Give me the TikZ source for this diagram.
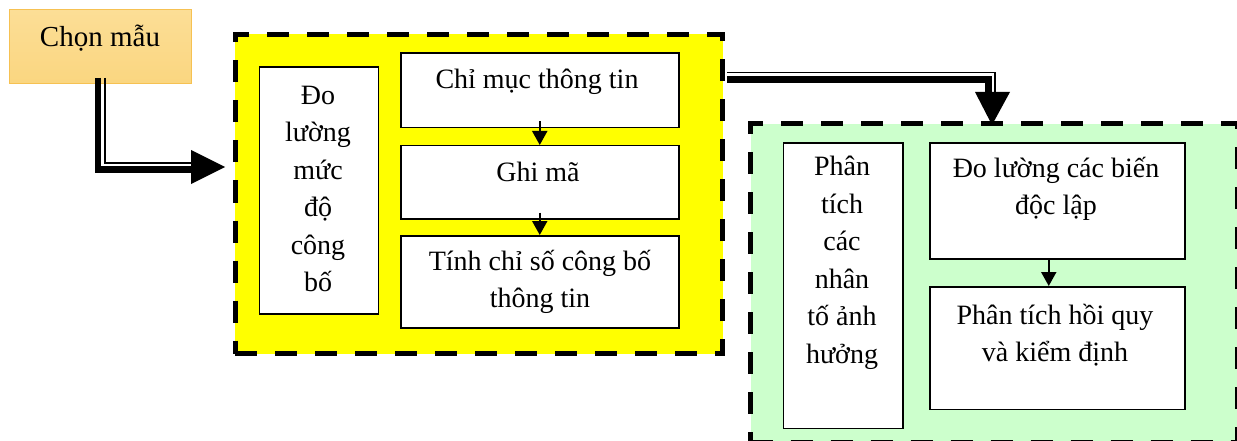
\documentclass[tikz,border=0pt]{standalone}
\usepackage{fontspec}
\setmainfont{Liberation Serif}
\usetikzlibrary{arrows.meta}
\definecolor{ylw}{RGB}{255,255,0}
\definecolor{grn}{RGB}{204,255,204}
\definecolor{orgtop}{RGB}{252,222,150}
\definecolor{orgbot}{RGB}{250,214,128}
\definecolor{orgline}{RGB}{246,193,82}
\tikzset{
  inbox/.style={draw=black, line width=1.5pt, fill=white, inner sep=0pt, anchor=north west},
  lbl/.style={font=\fontsize{28}{37.5}\selectfont, align=center, inner sep=0pt},
  dashbox/.style={line width=5pt, dash pattern=on 22pt off 18pt, inner sep=0pt, anchor=north west},
  thickln/.style={line width=6.5pt},
  thinln/.style={line width=1.6pt},
  smallarr/.style={line width=2pt, -{Triangle[width=15pt,length=14pt]}}
}
\begin{document}
\begin{tikzpicture}[x=1pt,y=-1pt]
\useasboundingbox (0,0) rectangle (1237,441);
% yellow frame
\node[dashbox, fill=ylw, draw=black, minimum width=487.5pt, minimum height=319pt] (yel) at (232.5,32) {};
% green frame
\node[dashbox, fill=grn, draw=black, minimum width=487pt, minimum height=318pt] (gre) at (748,121.5) {};
% Chon mau
\node[draw=orgline, line width=1pt, top color=orgtop, bottom color=orgbot, minimum width=182pt, minimum height=74pt, inner sep=0pt, anchor=north west] (chon) at (9,9) {};
\node[lbl, font=\fontsize{29}{37.5}\selectfont] (chonT) at (100,38) {Chọn mẫu};
% yellow inner boxes
\node[inbox, minimum width=119pt, minimum height=246.5pt] (do) at (258.5,66.5) {};
\node[lbl] (doT) at (318,189) {Đo\\lường\\mức\\độ\\công\\bố};
\node[inbox, minimum width=278pt, minimum height=74.5pt] (chi) at (400,52.5) {};
\node[lbl] (chiT) at (537,82) {Chỉ mục thông tin};
\node[inbox, minimum width=278pt, minimum height=73pt] (ghi) at (400,145) {};
\node[lbl] (ghiT) at (538,172) {Ghi mã};
\node[inbox, minimum width=278pt, minimum height=92pt] (tinh) at (400,235) {};
\node[lbl] (tinhT) at (540,282) {Tính chỉ số công bố\\thông tin};
% green inner boxes
\node[inbox, minimum width=119.5pt, minimum height=285pt] (pt) at (782.5,142.5) {};
\node[lbl] (ptT) at (842,263) {Phân\\tích\\các\\nhân\\tố ảnh\\hưởng};
\node[inbox, minimum width=255pt, minimum height=115.5pt] (dl) at (929,142.5) {};
\node[lbl] (dlT) at (1056,189) {Đo lường các biến\\độc lập};
\node[inbox, minimum width=255pt, minimum height=122.5pt] (hq) at (929,286) {};
\node[lbl] (hqT) at (1055,335) {Phân tích hồi quy\\và kiểm định};
% small arrows
\draw[smallarr] ([yshift=7pt]chi.south) -- (ghi.north);
\draw[smallarr] ([yshift=7pt]ghi.south) -- (tinh.north);
\draw[smallarr] ([xshift=-8.5pt]dl.south) -- ([xshift=-8.5pt]hq.north);
% double arrow 1
\coordinate (t1) at (225,167);
\coordinate (b1) at (191,167);
\draw[thickln] ([xshift=-2.5pt,yshift=6pt]chon.south) |- ([yshift=-2.5pt]b1);
\draw[thinln] ([xshift=4.5pt,yshift=6pt]chon.south) |- ([yshift=4pt]b1);
\fill (t1) -- ([yshift=17pt]b1) -- ([yshift=-17pt]b1) -- cycle;
% double arrow 2
\coordinate (s2) at (727,76);
\coordinate (b2) at (992,92);
\coordinate (t2) at (992,125);
\draw[thickln] ([yshift=-3.5pt]s2) -| ([xshift=-3.5pt]b2);
\draw[thinln] ([yshift=3.3pt]s2) -| ([xshift=3pt]b2);
\fill (t2) -- ([xshift=-17pt]b2) -- ([xshift=18pt]b2) -- cycle;
\end{tikzpicture}
\end{document}
